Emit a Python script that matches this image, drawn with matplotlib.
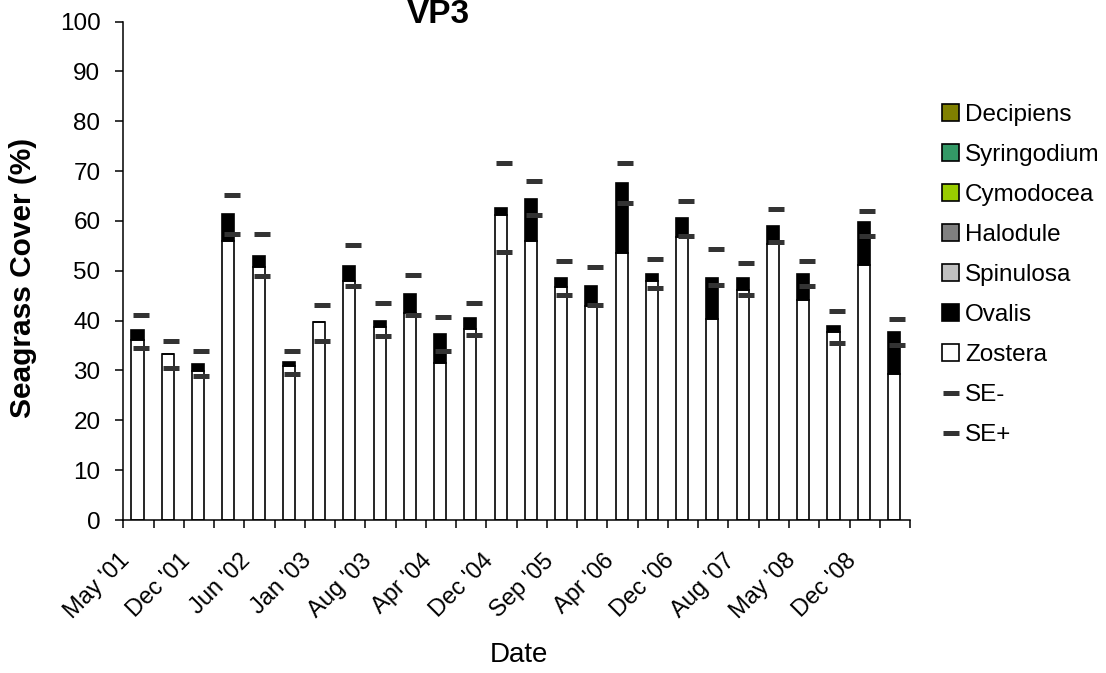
import numpy as np
import matplotlib
matplotlib.use('Agg')
import matplotlib.pyplot as plt
from matplotlib.patches import Patch
from matplotlib.lines import Line2D
from matplotlib.transforms import ScaledTranslation

plt.rcParams['font.family'] = ['Liberation Sans', 'DejaVu Sans']

# every second survey date is labelled on the axis
tick_labels = ["May '01", "Dec '01", "Jun '02", "Jan '03", "Aug '03", "Apr '04", "Dec '04",
               "Sep '05", "Apr '06", "Dec '06", "Aug '07", "May '08", "Dec '08"]

zostera = [36.1, 33.3, 29.9, 56.0, 50.7, 30.9, 39.7, 47.9, 38.7, 41.6, 31.5, 38.3, 61.1,
           56.0, 46.7, 43.0, 53.5, 47.9, 56.7, 40.3, 46.1, 55.3, 44.1, 37.7, 51.1, 29.3]
ovalis = [2.0, 0.0, 1.4, 5.3, 2.2, 0.8, 0.0, 3.0, 1.3, 3.7, 5.8, 2.2, 1.4,
          8.5, 1.8, 3.9, 14.2, 1.4, 3.8, 8.2, 2.4, 3.6, 5.2, 1.2, 8.6, 8.4]
spinulosa = [0.0] * 26
halodule = [0.0] * 26
cymodocea = [0.0] * 26
syringodium = [0.0] * 26
decipiens = [0.0] * 26
se_minus = [34.5, 30.4, 28.9, 57.3, 48.9, 29.2, 36.0, 46.9, 36.9, 41.2, 34.0, 37.2, 53.7,
            61.2, 45.2, 43.2, 63.6, 46.5, 56.9, 47.2, 45.2, 55.7, 46.9, 35.6, 56.9, 35.2]
se_plus = [41.2, 36.0, 34.0, 65.3, 57.3, 34.0, 43.2, 55.2, 43.6, 49.2, 40.8, 43.6, 71.6,
           68.0, 52.0, 50.8, 71.6, 52.4, 64.0, 54.4, 51.6, 62.4, 52.0, 42.0, 62.0, 40.4]

species = [('Zostera', zostera, 'white'),
           ('Ovalis', ovalis, 'black'),
           ('Spinulosa', spinulosa, '#C0C0C0'),
           ('Halodule', halodule, '#808080'),
           ('Cymodocea', cymodocea, '#99CC00'),
           ('Syringodium', syringodium, '#339966'),
           ('Decipiens', decipiens, '#808000')]

fig = plt.figure(figsize=(11.06, 6.73), dpi=100)
ax = fig.add_axes([0.1115, 0.2273, 0.7113, 0.7407])

x = np.arange(len(zostera))
bottom = np.zeros(len(x))
for name, vals, col in species:
    vals = np.array(vals)
    lw = 1.2 if vals.any() else 0
    ax.bar(x - 0.03, vals, 0.40, bottom=bottom, color=col, edgecolor='black', linewidth=lw)
    bottom += vals

ax.plot(x + 0.08, se_minus, ls='none', marker='_', ms=11.5, mew=3.6, color='#333333')
ax.plot(x + 0.08, se_plus, ls='none', marker='_', ms=11.5, mew=3.6, color='#333333')

ax.set_xlim(-0.5, len(x) - 0.5)
ax.set_ylim(0, 100)
ax.set_yticks(range(0, 101, 10))
ax.tick_params(axis='y', direction='out', length=5.5, width=1.1, labelsize=17.5, pad=11)

ax.set_xticks(x[::2])
ax.set_xticklabels(tick_labels, rotation=45, ha='right', va='center', rotation_mode='anchor')
ax.tick_params(axis='x', which='major', length=0, labelsize=17, pad=27)
ax.set_xticks(np.arange(-0.5, len(x), 1.0), minor=True)
ax.tick_params(axis='x', which='minor', direction='out', length=5.5, width=1.1)
shift = ScaledTranslation(-12 / 100, 0, fig.dpi_scale_trans)
for lab in ax.get_xticklabels():
    lab.set_transform(lab.get_transform() + shift)

for s in ['top', 'right']:
    ax.spines[s].set_visible(False)
for s in ['left', 'bottom']:
    ax.spines[s].set_linewidth(1.1)

fig.text(438 / 1106, 1 - 23 / 673, 'VP3', ha='center', va='baseline', fontsize=24, fontweight='bold')
fig.text(23 / 1106, 1 - 278 / 673, 'Seagrass Cover (%)', rotation=90, ha='center', va='center',
         fontsize=21.5, fontweight='bold')
fig.text(519 / 1106, 1 - 662 / 673, 'Date', ha='center', va='baseline', fontsize=20)

handles = [Patch(facecolor=col, edgecolor='black', linewidth=1.2, label=name)
           for name, vals, col in species[::-1]]
handles.append(Line2D([], [], ls='none', marker='_', ms=11, mew=3.6, color='#333333', label='SE-'))
handles.append(Line2D([], [], ls='none', marker='_', ms=11, mew=3.6, color='#333333', label='SE+'))
fig.legend(handles=handles, loc='upper left', bbox_to_anchor=(942 / 1106, 1 - 104 / 673),
           frameon=False, fontsize=17.5, handlelength=0.7, handleheight=0.7,
           handletextpad=0.25, labelspacing=0.74, borderpad=0, borderaxespad=0)

fig.savefig('out.png', dpi=100)
